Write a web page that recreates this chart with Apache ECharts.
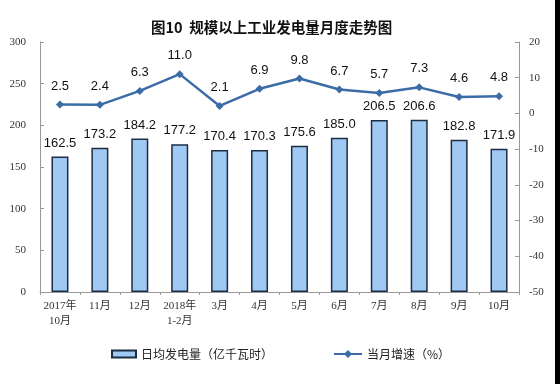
<!DOCTYPE html>
<html><head><meta charset="utf-8">
<script src="https://cdn.jsdelivr.net/npm/echarts@6/dist/echarts.min.js"></script>
<style>html,body{margin:0;padding:0;background:#fff}#c{width:560px;height:384px}</style>
</head><body><div id="c"></div>
<script>
const categories = ['2017年\n10月','11月','12月','2018年\n1-2月','3月','4月','5月','6月','7月','8月','9月','10月'];
const dailyPower = [162.5,173.2,184.2,177.2,170.4,170.3,175.6,185.0,206.5,206.6,182.8,171.9];
const growth = [2.5,2.4,6.3,11.0,2.1,6.9,9.8,6.7,5.7,7.3,4.6,4.8];
const barName = '日均发电量（亿千瓦时）';
const lineName = '当月增速（%）';
const titleText = '图10  规模以上工业发电量月度走势图';

const chart = echarts.init(document.getElementById('c'));
const axisFont = {fontFamily:'Liberation Serif, "Noto Sans CJK SC"', fontSize:11, color:'#333'};
chart.setOption({
  animation:false,
  title:{text:titleText,left:146,top:15,textStyle:{fontSize:14.5,fontWeight:'bold',color:'#111',fontFamily:'"Noto Sans CJK SC", sans-serif'}},
  grid:{left:40,right:41,top:42,bottom:92},
  legend:[
    {data:[{name:barName,icon:'rect'}],left:106,top:343,itemWidth:24,itemHeight:7,itemGap:4,
     textStyle:{fontSize:12,color:'#222',fontFamily:'"Noto Sans CJK SC"'}},
    {data:[{name:lineName}],left:328,top:343,itemWidth:28,itemHeight:10,
     textStyle:{fontSize:12,color:'#222',fontFamily:'"Noto Sans CJK SC"'}}
  ],
  xAxis:{type:'category',data:categories,
    axisLine:{lineStyle:{color:'#999'}},
    axisTick:{show:true,length:3,lineStyle:{color:'#999'}},
    axisLabel:Object.assign({margin:7,lineHeight:15,interval:0},axisFont)},
  yAxis:[
    {type:'value',min:0,max:300,interval:50,position:'left',
     axisLine:{show:true,lineStyle:{color:'#999'}},
     axisTick:{show:true,inside:true,length:4,lineStyle:{color:'#999'}},
     splitLine:{show:false},
     axisLabel:Object.assign({margin:14},axisFont)},
    {type:'value',min:-50,max:20,interval:10,position:'right',
     axisLine:{show:true,lineStyle:{color:'#999'}},
     axisTick:{show:true,inside:true,length:4,lineStyle:{color:'#999'}},
     splitLine:{show:false},
     axisLabel:Object.assign({margin:10},axisFont)}
  ],
  series:[
    {name:barName,type:'bar',data:dailyPower,barWidth:17,yAxisIndex:0,
     itemStyle:{color:'#9fc8f3',borderColor:'#1c2d44',borderWidth:1.5},
     label:{show:true,position:'top',distance:7,fontSize:13,color:'#111',fontFamily:'Liberation Sans, Arial',formatter:p=>p.value.toFixed(1)}},
    {name:lineName,type:'line',data:growth,yAxisIndex:1,symbol:'diamond',symbolSize:8,
     lineStyle:{color:'#3b6ca8',width:2.5},itemStyle:{color:'#3b6ca8'},
     label:{show:true,position:'top',distance:8,fontSize:13,color:'#111',fontFamily:'Liberation Sans, Arial',formatter:p=>p.value.toFixed(1)}}
  ],
  graphic:[{type:'rect',shape:{x:555,y:0,width:5,height:384},style:{fill:'#000'},silent:true}]
});
</script></body></html>
